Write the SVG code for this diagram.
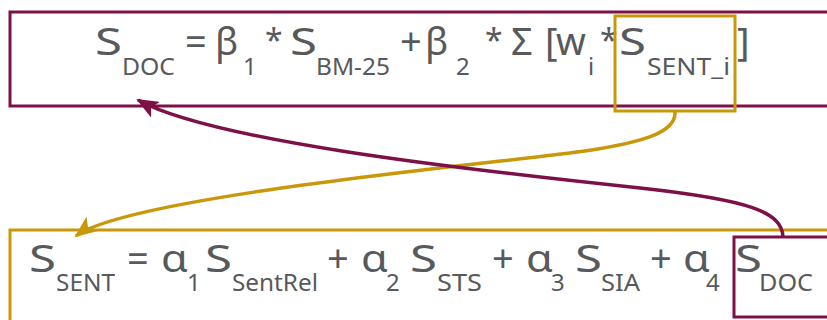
<svg xmlns="http://www.w3.org/2000/svg" width="827" height="320" viewBox="0 0 827 320">
<style>
.box{fill:none;stroke-width:3}
.m{stroke:#7e1048}
.g{stroke:#c9980a}
text{font-family:"Noto Sans","Open Sans","Liberation Sans",sans-serif;fill:#58595b}
.big{font-size:38px}
.ast{font-size:32px}
.sub{font-size:24px}
.conn{fill:none;stroke-width:3.5}
</style>
<defs>
<marker id="am" markerUnits="userSpaceOnUse" viewBox="0 0 22 18" markerWidth="22" markerHeight="18" refX="20" refY="9" orient="auto">
<path d="M0,0 L22,9 L0,18 L5,9 z" fill="#7e1048"/>
</marker>
<marker id="ag" markerUnits="userSpaceOnUse" viewBox="0 0 22 18" markerWidth="22" markerHeight="18" refX="20" refY="9" orient="auto">
<path d="M0,0 L22,9 L0,18 L5,9 z" fill="#c9980a"/>
</marker>
</defs>
<rect width="827" height="320" fill="#fff"/>
<g id="doc-formula">
<rect class="box m" x="10" y="12" width="830" height="94"/>
<text class="big" x="95" y="55" textLength="27" lengthAdjust="spacingAndGlyphs">S</text>
<text class="big" x="290" y="55" textLength="27" lengthAdjust="spacingAndGlyphs">S</text>
<text class="big" y="55"><tspan x="185">=</tspan><tspan x="215">β</tspan><tspan x="400">+</tspan><tspan x="425">β</tspan><tspan x="511">Σ</tspan><tspan x="545">[</tspan><tspan x="556">w</tspan></text>
<text class="ast" y="52"><tspan x="265">*</tspan><tspan x="485">*</tspan><tspan x="600">*</tspan></text>
<text class="big" x="737" y="55">]</text>
<text class="sub" y="75"><tspan x="243">1</tspan><tspan x="316" textLength="74" lengthAdjust="spacingAndGlyphs">BM-25</tspan><tspan x="456">2</tspan><tspan x="588">i</tspan></text>
<text class="sub" x="122" y="75" textLength="53" lengthAdjust="spacingAndGlyphs">DOC</text>
</g>
<g id="sent-term">
<rect class="box g" x="615" y="16" width="120" height="95"/>
<text class="big" x="619" y="55" textLength="27" lengthAdjust="spacingAndGlyphs">S</text>
<text class="sub" x="647" y="75" textLength="83" lengthAdjust="spacingAndGlyphs">SENT_i</text>
</g>
<g id="sent-formula">
<rect class="box g" x="10" y="230" width="830" height="100"/>
<text class="big" x="29" y="272" textLength="27" lengthAdjust="spacingAndGlyphs">S</text>
<text class="big" x="205" y="272" textLength="27" lengthAdjust="spacingAndGlyphs">S</text>
<text class="big" x="410" y="272" textLength="27" lengthAdjust="spacingAndGlyphs">S</text>
<text class="big" x="575" y="272" textLength="27" lengthAdjust="spacingAndGlyphs">S</text>
<text class="big" x="161" y="272" textLength="27" lengthAdjust="spacingAndGlyphs">α</text>
<text class="big" x="361" y="272" textLength="27" lengthAdjust="spacingAndGlyphs">α</text>
<text class="big" x="526" y="272" textLength="27" lengthAdjust="spacingAndGlyphs">α</text>
<text class="big" x="683" y="272" textLength="27" lengthAdjust="spacingAndGlyphs">α</text>
<text class="big" y="272"><tspan x="127">=</tspan><tspan x="327">+</tspan><tspan x="492">+</tspan><tspan x="650">+</tspan></text>
<text class="sub" y="291"><tspan x="56" textLength="59" lengthAdjust="spacingAndGlyphs">SENT</tspan><tspan x="187">1</tspan><tspan x="232" textLength="86" lengthAdjust="spacingAndGlyphs">SentRel</tspan><tspan x="386">2</tspan><tspan x="437" textLength="45" lengthAdjust="spacingAndGlyphs">STS</tspan><tspan x="551">3</tspan><tspan x="601" textLength="39" lengthAdjust="spacingAndGlyphs">SIA</tspan><tspan x="706">4</tspan></text>
</g>
<g id="doc-term">
<rect class="box m" x="734" y="237" width="100" height="80"/>
<text class="big" x="735" y="272" textLength="27" lengthAdjust="spacingAndGlyphs">S</text>
<text class="sub" x="759" y="291" textLength="54" lengthAdjust="spacingAndGlyphs">DOC</text>
</g>
<g id="connectors">
<path class="conn g" d="M675,112 C676,132 645,142 585,151 C520,161 130,195 76,236" marker-end="url(#ag)"/>
<path class="conn m" d="M783,237 C782,212 750,200 640,188 C450,168 210,140 138,100" marker-end="url(#am)"/>
</g>
</svg>
